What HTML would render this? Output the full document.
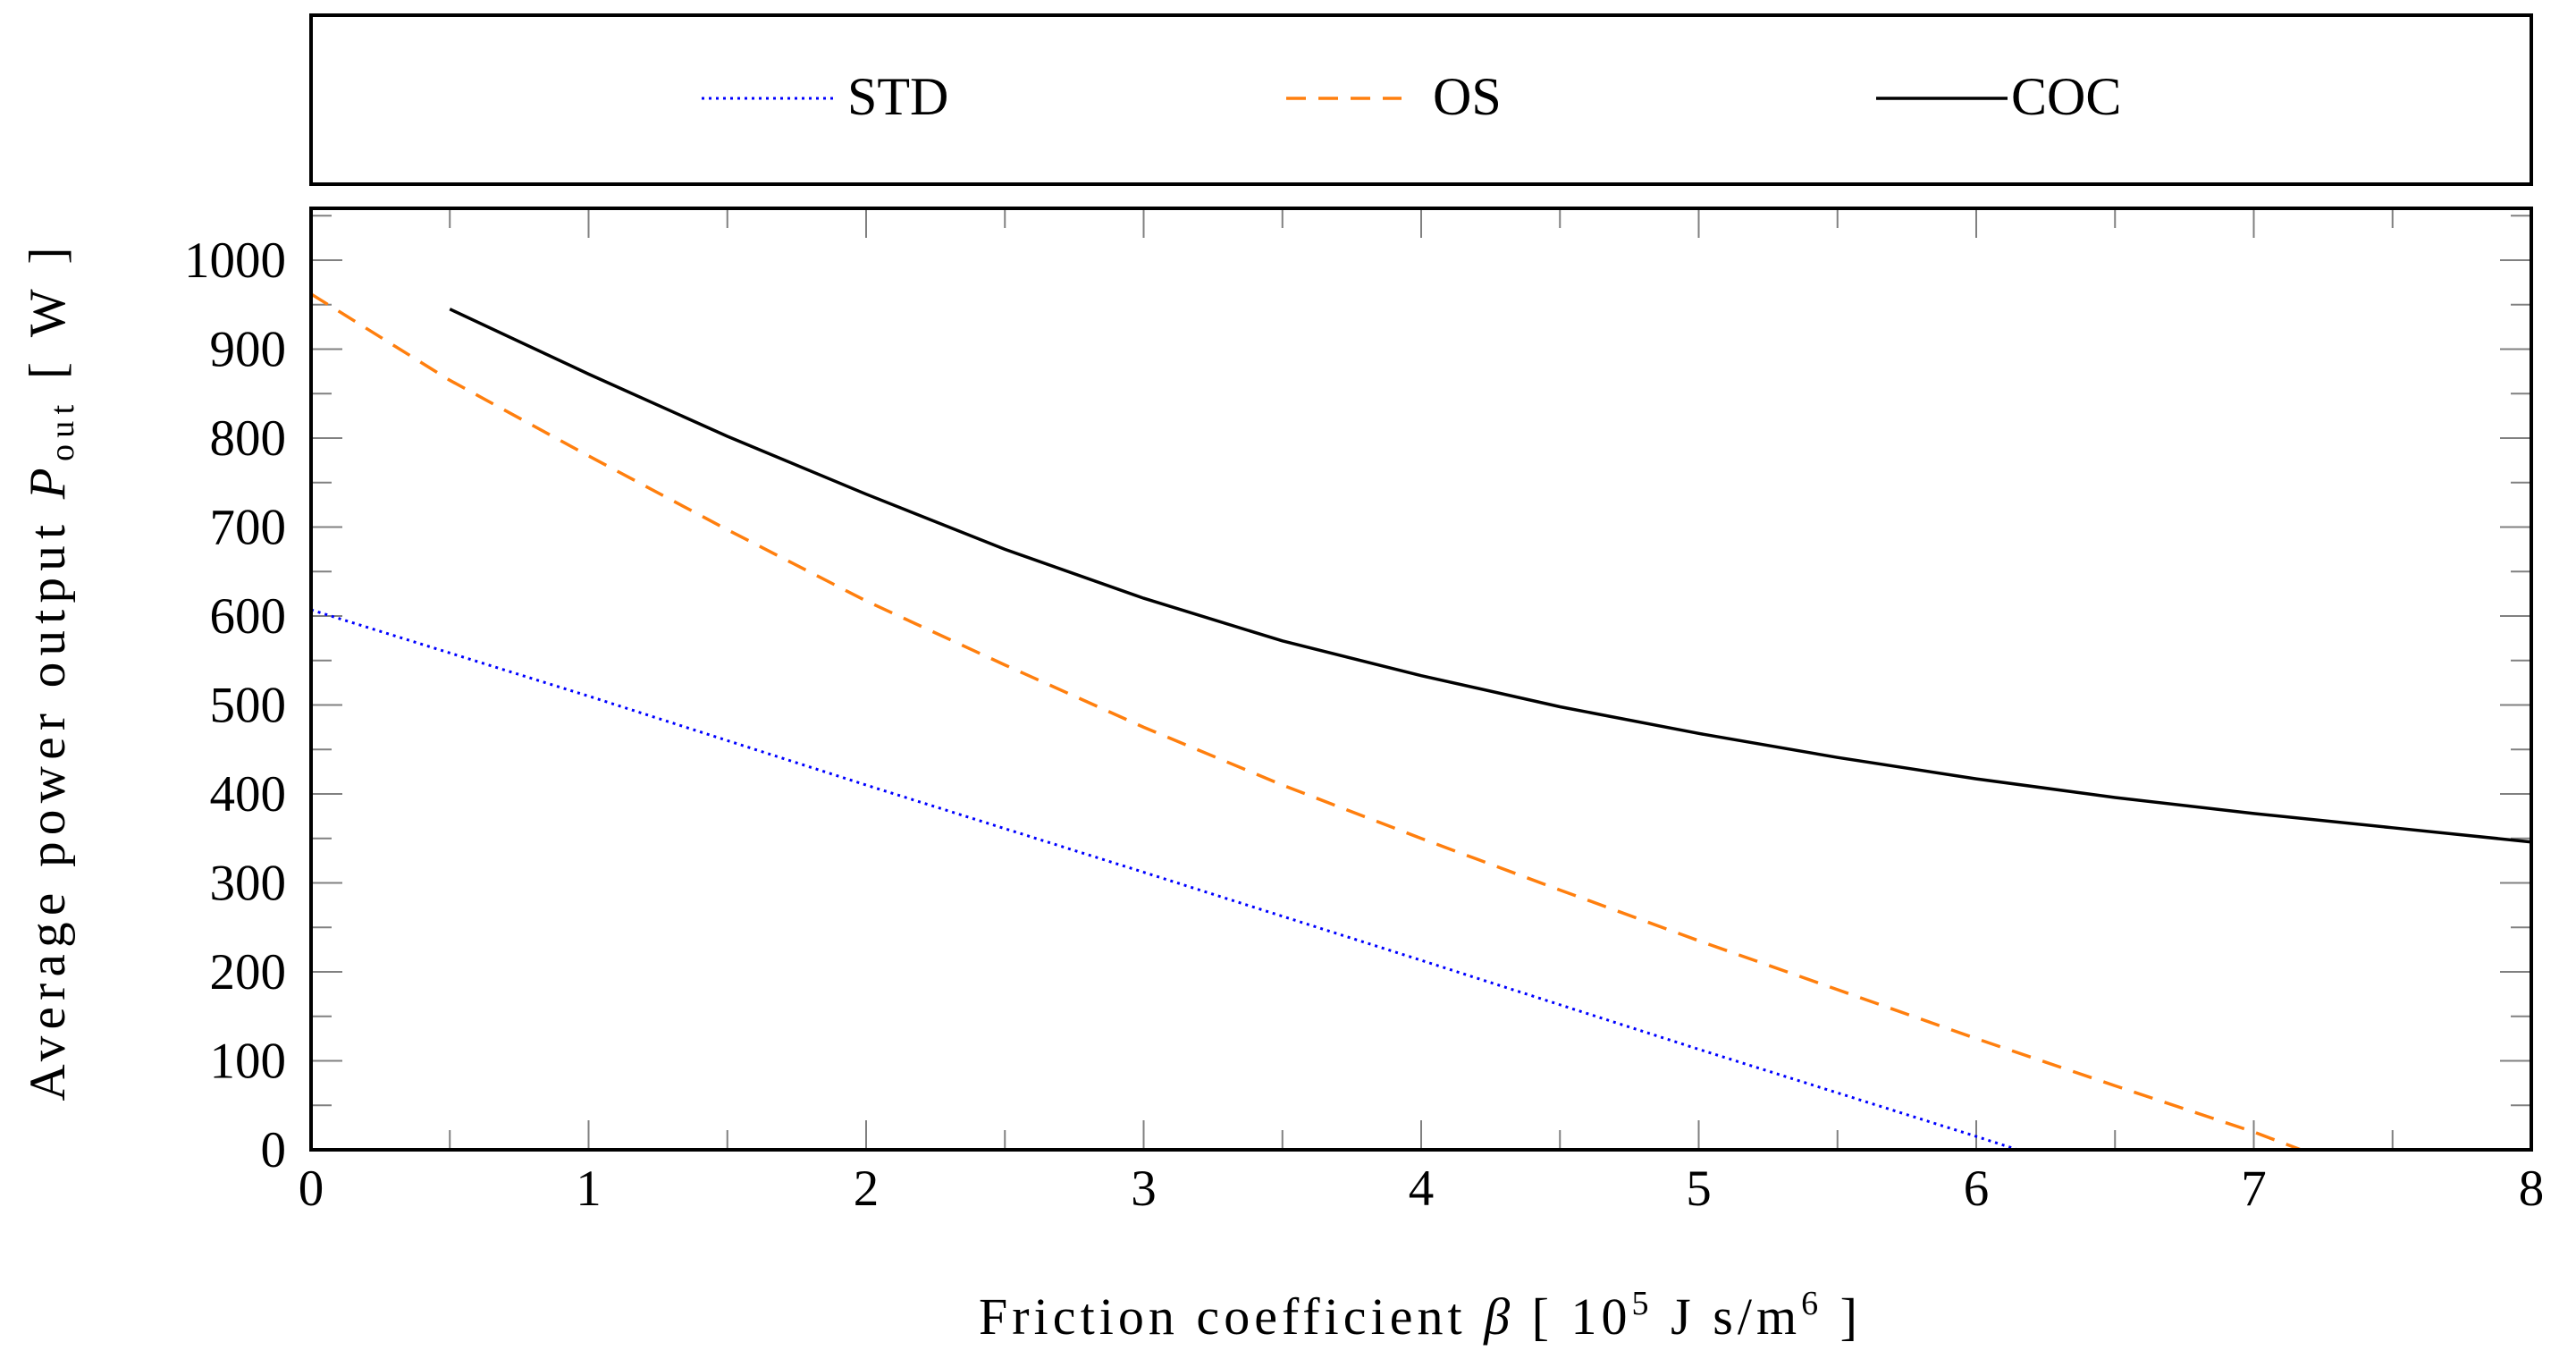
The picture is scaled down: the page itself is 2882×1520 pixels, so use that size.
<!DOCTYPE html>
<html><head><meta charset="utf-8"><style>
html,body{margin:0;padding:0;background:#fff;}
svg{display:block;font-family:"Liberation Serif",serif;}
</style></head><body>
<svg id="chart" width="2882" height="1520" viewBox="0 0 2882 1520" xmlns="http://www.w3.org/2000/svg">
<rect x="348" y="17" width="2484" height="189" fill="none" stroke="#000" stroke-width="4"/>
<g>
<line x1="785" y1="110" x2="932" y2="110" stroke="#0000ff" stroke-width="3" stroke-dasharray="3 5"/>
<text x="948" y="128" font-size="60">STD</text></g>
<g>
<line x1="1439" y1="110" x2="1568" y2="110" stroke="#ff7f0e" stroke-width="3.5" stroke-dasharray="22 14"/>
<text x="1603" y="128" font-size="60">OS</text></g>
<g>
<line x1="2099" y1="110" x2="2246" y2="110" stroke="#000" stroke-width="3.5"/>
<text x="2250" y="128" font-size="60">COC</text></g>
<g id="ticks"></g>
<g id="series"></g>
<rect x="348" y="233" width="2484" height="1053" fill="none" stroke="#000" stroke-width="4"/>
<g id="labels" font-size="57"></g>
<text x="1095" y="1492" font-size="58" textLength="983" lengthAdjust="spacing">Friction coefficient <tspan font-style="italic">β</tspan> [ 10<tspan font-size="38" dy="-22">5</tspan><tspan dy="22"> J s/m</tspan><tspan font-size="38" dy="-22">6</tspan><tspan dy="22"> ]</tspan></text>
<text transform="translate(72,754) rotate(-90)" font-size="57" text-anchor="middle" textLength="955">Average power output <tspan font-style="italic">P</tspan><tspan font-size="38" dy="10">out</tspan><tspan dy="-10"> [ W ]</tspan></text>
</svg>
<script>
const xTicks=[0,1,2,3,4,5,6,7,8];
const yTicks=[0,100,200,300,400,500,600,700,800,900,1000];
const stdX=[0,1,2,3,4,5,6,6.15];
const stdY=[607,510,410,312,213,113,15,0];
const osX=[0,0.5,1,1.5,2,2.5,3,3.5,4,4.5,5,5.5,6,6.5,7,7.17];
const osY=[962,865,780,697,617,545,475,410,350,292,235,180,125,72,20,0];
const cocX=[0.5,1,1.5,2,2.5,3,3.5,4,4.5,5,5.5,6,6.5,7,7.5,8];
const cocY=[945,872,802,737,675,620,572,533,498,468,441,417,396,378,362,346];
const X0=348,X1=2832,Y0=1286,Y1=233,XMAX=8,YPER=0.995;
function sx(v){return X0+(X1-X0)*v/XMAX;}
function sy(v){return Y0-v*YPER;}
const NS="http://www.w3.org/2000/svg";
const tg=document.getElementById('ticks'),lg=document.getElementById('labels'),sg=document.getElementById('series');
function ln(x1,y1,x2,y2){const l=document.createElementNS(NS,'line');l.setAttribute('x1',x1);l.setAttribute('y1',y1);l.setAttribute('x2',x2);l.setAttribute('y2',y2);l.setAttribute('stroke','#808080');l.setAttribute('stroke-width','2');tg.appendChild(l);return l;}
for(let i=0;i<=16;i++){const v=i/2,x=sx(v),len=i%2?22:33;
 let a=ln(x,Y0,x,Y0-len);
 
 
 let b=ln(x,Y1,x,Y1+len);
 
 }
for(let v=0;sy(v)>Y1;v+=50){const y=sy(v),len=(v%100)?23:35;
 let a=ln(X0,y,X0+len,y);
 
 
 let b=ln(X1,y,X1-len,y);
 
 }
xTicks.forEach(v=>{const t=document.createElementNS(NS,'text');t.setAttribute('x',sx(v));t.setAttribute('y',1348);t.setAttribute('text-anchor','middle');t.textContent=v;
 
 
 lg.appendChild(t);});
yTicks.forEach(v=>{const t=document.createElementNS(NS,'text');t.setAttribute('x',320);t.setAttribute('y',sy(v)+19);t.setAttribute('text-anchor','end');t.textContent=v;
 
 
 lg.appendChild(t);});
function series(xs,ys,color,dash,w,name){const p=document.createElementNS(NS,'polyline');
 p.setAttribute('points',xs.map((x,i)=>sx(x)+','+sy(ys[i])).join(' '));
 p.setAttribute('fill','none');p.setAttribute('stroke',color);p.setAttribute('stroke-width',w);
 if(dash)p.setAttribute('stroke-dasharray',dash);
 
 
 sg.appendChild(p);}
series(stdX,stdY,'#0000ff','3 5',3,'std-line');
series(osX,osY,'#ff7f0e','22 14',3.5,'os-line');
series(cocX,cocY,'#000','',3.5,'coc-line');
</script>
</body></html>
